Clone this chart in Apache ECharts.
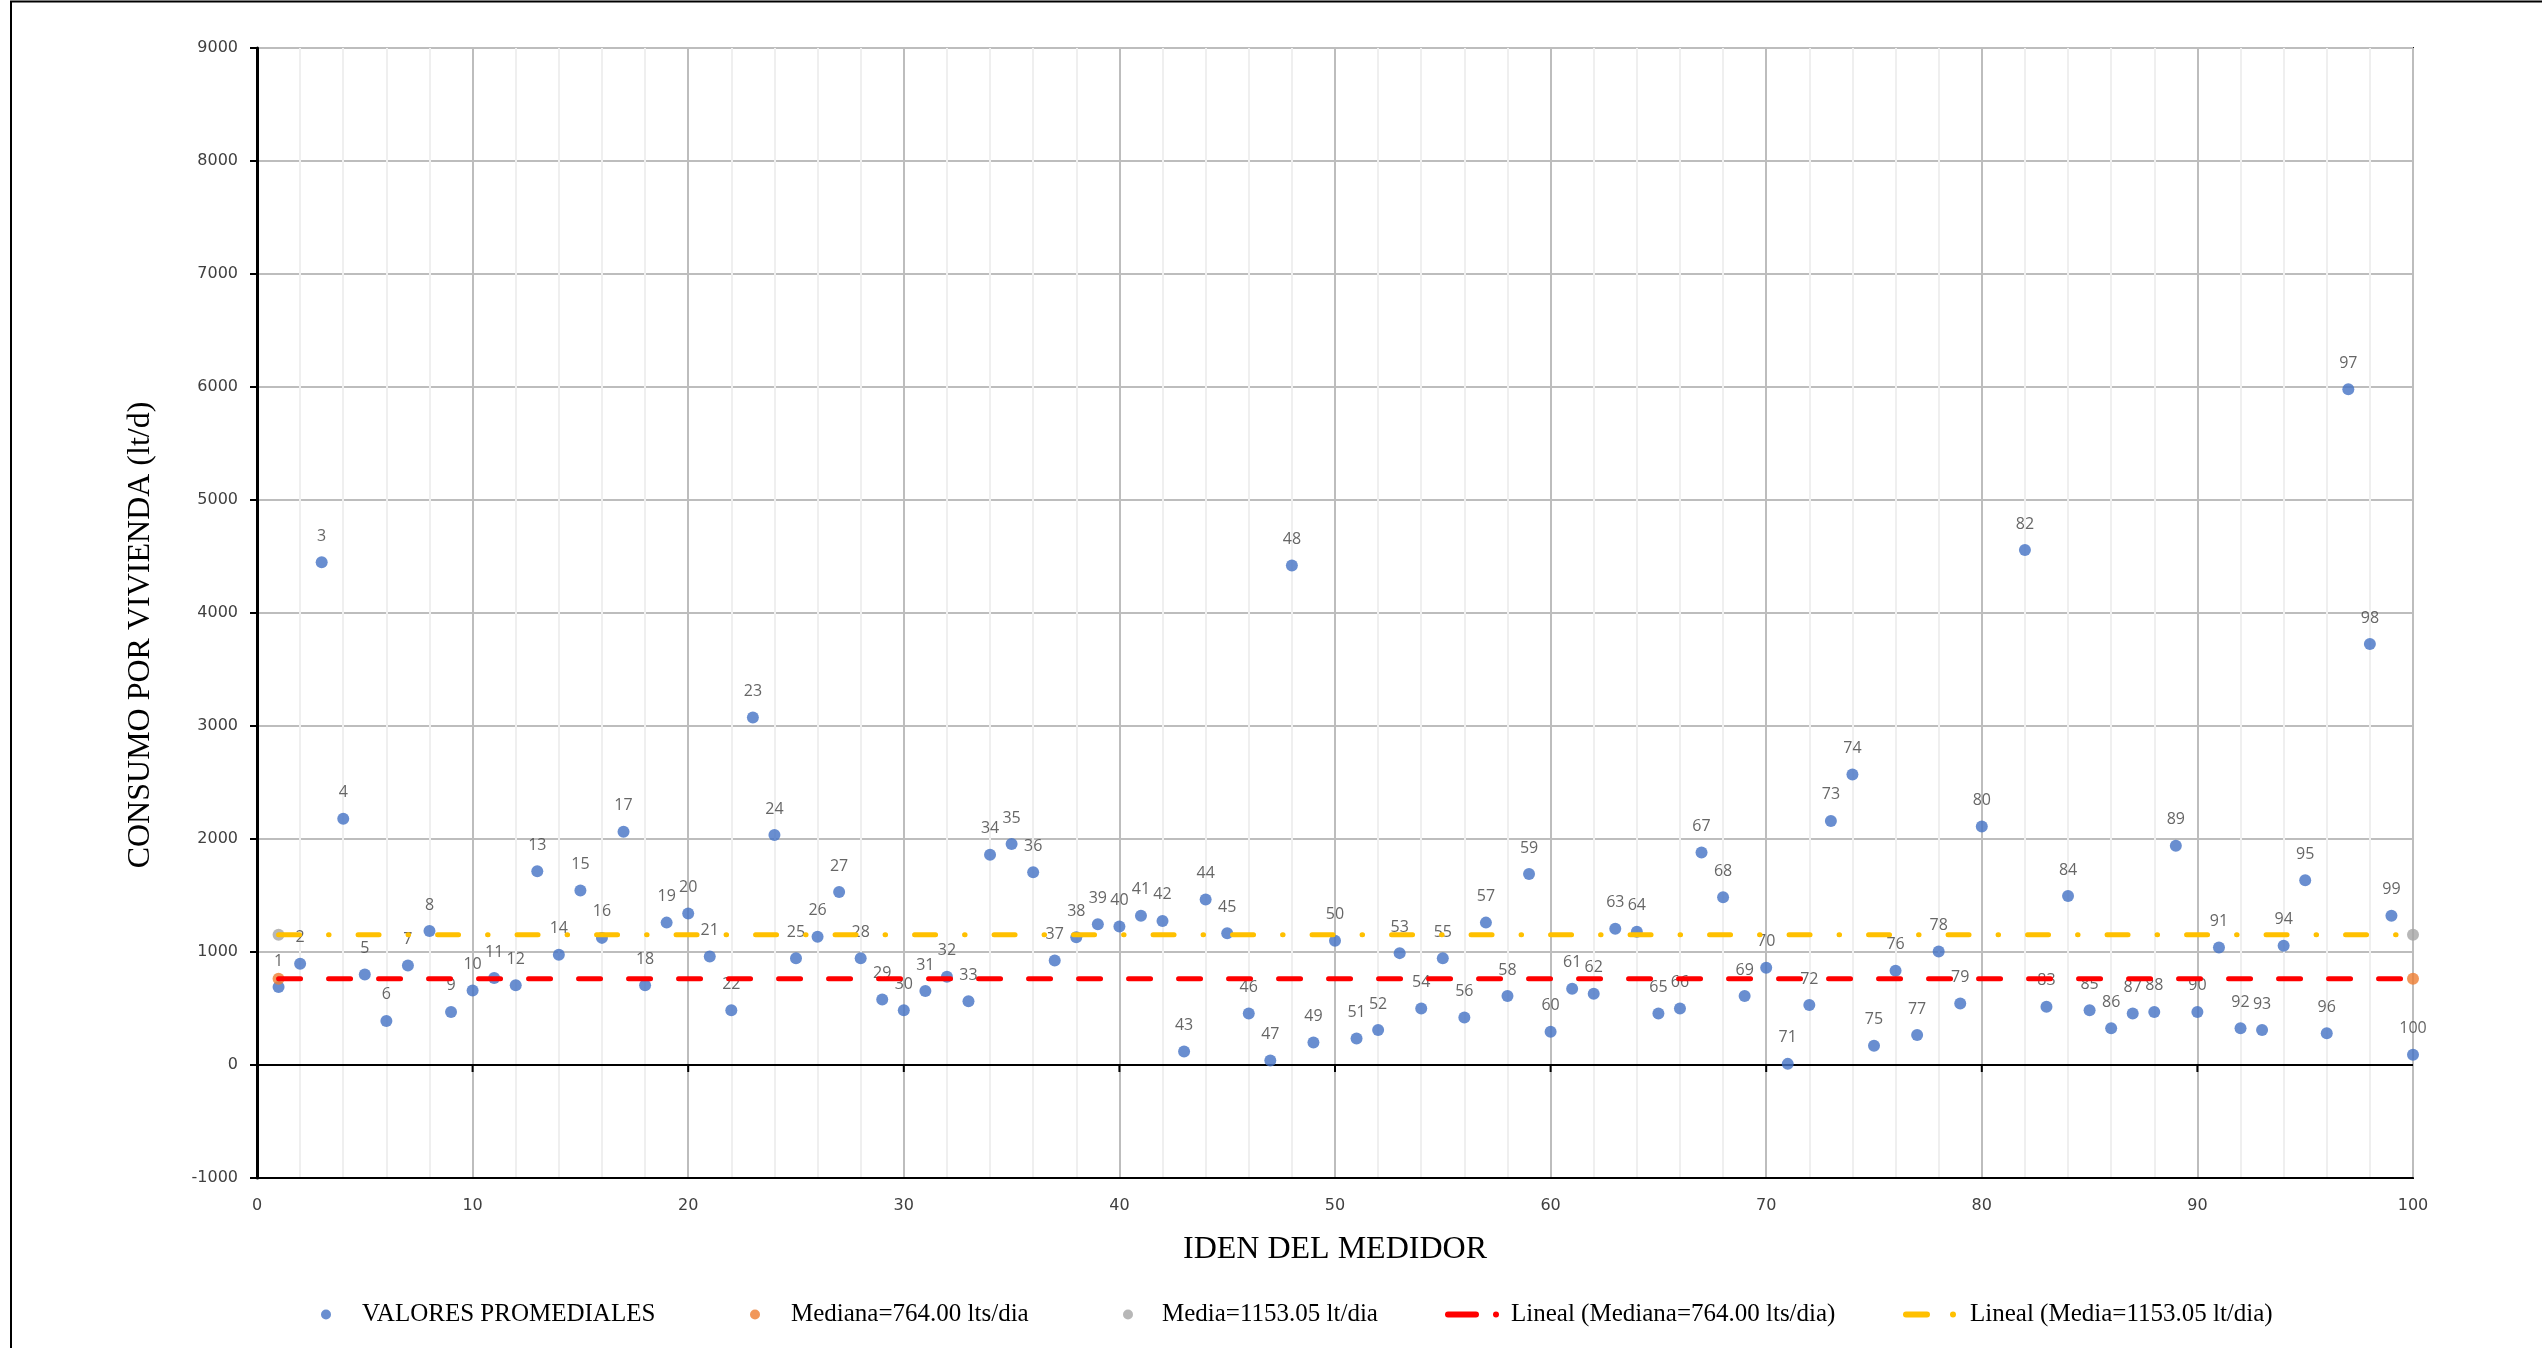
<!DOCTYPE html>
<html>
<head>
<meta charset="utf-8">
<title>Consumo por vivienda</title>
<script src="https://cdn.jsdelivr.net/npm/echarts@6/dist/echarts.min.js"></script>
<style>
  html, body { margin: 0; padding: 0; background: #ffffff; }
  #chart { width: 2542px; height: 1348px; }
</style>
</head>
<body>
<div id="chart"></div>
<script>
// Identificador de cada medidor (eje X)
const idMedidor = [
  1, 2, 3, 4, 5, 6, 7, 8, 9, 10,
  11, 12, 13, 14, 15, 16, 17, 18, 19, 20,
  21, 22, 23, 24, 25, 26, 27, 28, 29, 30,
  31, 32, 33, 34, 35, 36, 37, 38, 39, 40,
  41, 42, 43, 44, 45, 46, 47, 48, 49, 50,
  51, 52, 53, 54, 55, 56, 57, 58, 59, 60,
  61, 62, 63, 64, 65, 66, 67, 68, 69, 70,
  71, 72, 73, 74, 75, 76, 77, 78, 79, 80,
  81, 82, 83, 84, 85, 86, 87, 88, 89, 90,
  91, 92, 93, 94, 95, 96, 97, 98, 99, 100
];

// Consumo promedio por vivienda (lt/d); el medidor 81 no tiene registro
const consumoPromedio = [
  690, 895, 4450, 2180, 800, 390, 880, 1185, 470, 660,
  770, 705, 1715, 975, 1545, 1125, 2065, 705, 1260, 1340,
  960, 485, 3075, 2035, 945, 1135, 1530, 945, 580, 485,
  655, 780, 565, 1860, 1955, 1705, 925, 1130, 1245, 1225,
  1320, 1275, 120, 1465, 1165, 455, 40, 4420, 200, 1100,
  235, 310, 990, 500, 945, 420, 1260, 610, 1690, 295,
  675, 630, 1205, 1180, 455, 500, 1880, 1485, 610, 860,
  10, 530, 2160, 2570, 170, 835, 265, 1005, 545, 2110,
  null, 4558, 515, 1495, 485, 325, 455, 470, 1940, 470,
  1040, 325, 310, 1055, 1635, 280, 5980, 3726, 1320, 90
];

// Estadísticos de referencia
const mediana = 764.00;
const media = 1153.05;
const extremosX = [1, 100];

// Escalas de los ejes
const ejeX = { min: 0, max: 100, interval: 10 };
const ejeY = { min: -1000, max: 9000, interval: 1000 };
// Marcas sobre la línea del cero
const marcasCero = [10, 20, 30, 40, 50, 60, 70, 80, 90];

const puntos = idMedidor.map((id, i) => [id, consumoPromedio[i]]).filter(p => p[1] !== null);
const puntosMediana = extremosX.map(x => [x, mediana]);
const puntosMedia = extremosX.map(x => [x, media]);

const serifFont = '"Liberation Serif", "Times New Roman", serif';
const tickFont = '"DejaVu Sans", Verdana, sans-serif';

const chart = echarts.init(document.getElementById('chart'), null, { renderer: 'canvas' });

const legendBase = {
  orient: 'horizontal',
  top: 1302,
  padding: 0,
  itemHeight: 10,
  itemWidth: 10,
  textStyle: { fontFamily: serifFont, fontSize: 25, color: '#000000' },
  selectedMode: false
};
function leyenda(extra, pad) {
  return Object.assign({}, legendBase, extra, {
    textStyle: Object.assign({}, legendBase.textStyle, { padding: [0, 0, 0, pad] })
  });
}

chart.setOption({
  backgroundColor: '#ffffff',
  animation: false,
  grid: {
    left: 257, right: 129, top: 48, bottom: 170,
    show: true, borderColor: '#1a1a1a', borderWidth: 2
  },
  xAxis: {
    type: 'value',
    min: ejeX.min, max: ejeX.max, interval: ejeX.interval,
    position: 'bottom',
    name: 'IDEN DEL MEDIDOR',
    nameLocation: 'middle',
    nameGap: 56,
    nameTextStyle: { fontFamily: serifFont, fontSize: 32, color: '#000000' },
    axisLine: { show: true, onZero: false, lineStyle: { color: '#000000', width: 2 } },
    axisTick: { show: false },
    axisLabel: { fontFamily: tickFont, fontSize: 16, color: '#404040', margin: 20, formatter: v => String(v) },
    splitLine: { show: true, lineStyle: { color: '#BDBDBD', width: 2 } },
    minorTick: { show: false, splitNumber: 5 },
    minorSplitLine: { show: true, lineStyle: { color: '#EFEFEF', width: 2 } }
  },
  yAxis: {
    type: 'value',
    min: ejeY.min, max: ejeY.max, interval: ejeY.interval,
    axisLine: { show: true, onZero: false, lineStyle: { color: '#000000', width: 3 } },
    axisTick: { show: true, length: 7, lineStyle: { color: '#000000', width: 2 } },
    axisLabel: { fontFamily: tickFont, fontSize: 16, color: '#404040', margin: 19, formatter: v => String(v) },
    splitLine: { show: true, lineStyle: { color: '#BDBDBD', width: 2 } }
  },
  legend: [
    leyenda({ left: 321, data: [{ name: 'VALORES PROMEDIALES', icon: 'circle' }] }, 26),
    leyenda({ left: 750, data: [{ name: 'Mediana=764.00 lts/dia', icon: 'circle' }] }, 26),
    leyenda({ left: 1123, data: [{ name: 'Media=1153.05 lt/dia', icon: 'circle' }] }, 24),
    leyenda({
      left: 1445, itemWidth: 56, itemHeight: 6,
      data: [{ name: 'Lineal (Mediana=764.00 lts/dia)', icon: 'path://M3,0H31A3,3 0 0 1 31,6H3A3,3 0 0 1 3,0ZM51,0A3,3 0 0 1 51,6A3,3 0 0 1 51,0ZM0,3H0.01M56,3H55.99' }]
    }, 5),
    leyenda({
      left: 1903, itemWidth: 53, itemHeight: 6,
      data: [{ name: 'Lineal (Media=1153.05 lt/dia)', icon: 'path://M3,0H24A3,3 0 0 1 24,6H3A3,3 0 0 1 3,0ZM50,0A3,3 0 0 1 50,6A3,3 0 0 1 50,0ZM0,3H0.01M53,3H52.99' }]
    }, 9)
  ],
  graphic: [
    {
      // marco exterior del gráfico
      type: 'rect',
      shape: { x: 11, y: 1.5, width: 2700, height: 1500 },
      style: { fill: 'none', stroke: '#000000', lineWidth: 2 },
      silent: true
    },
    {
      type: 'text',
      x: 141, y: 635,
      rotation: Math.PI / 2,
      style: {
        text: 'CONSUMO POR VIVIENDA (lt/d)',
        font: '32px ' + serifFont,
        fill: '#000000',
        align: 'center',
        verticalAlign: 'middle'
      },
      silent: true
    }
  ],
  series: [
    {
      name: 'VALORES PROMEDIALES',
      type: 'scatter',
      z: 2,
      symbol: 'circle',
      symbolSize: 12,
      itemStyle: { color: '#4472C4' },
      label: {
        show: true,
        position: 'top',
        distance: 12,
        formatter: p => String(p.value[0]),
        fontFamily: '"Open Sans", "Liberation Sans", sans-serif',
        fontSize: 16,
        color: '#404040'
      },
      // línea horizontal del cero
      markLine: {
        silent: true,
        symbol: 'none',
        label: { show: false },
        lineStyle: { color: '#000000', width: 2, type: 'solid' },
        data: [{ yAxis: 0 }],
        z: 1
      },
      data: puntos
    },
    {
      // marcas de graduación sobre la línea del cero
      name: 'marcasCero',
      type: 'custom',
      z: 1,
      silent: true,
      renderItem: function (params, api) {
        const p = api.coord([api.value(0), api.value(1)]);
        return {
          type: 'line',
          shape: { x1: p[0], y1: p[1], x2: p[0], y2: p[1] + 7 },
          style: { stroke: '#000000', lineWidth: 2 }
        };
      },
      data: marcasCero.map(x => [x, 0])
    },
    {
      name: 'Mediana=764.00 lts/dia',
      type: 'scatter',
      z: 2,
      symbolSize: 12,
      itemStyle: { color: '#ED7D31' },
      data: puntosMediana
    },
    {
      name: 'Media=1153.05 lt/dia',
      type: 'scatter',
      z: 2,
      symbolSize: 12,
      itemStyle: { color: '#A5A5A5' },
      data: puntosMedia
    },
    {
      name: 'Lineal (Mediana=764.00 lts/dia)',
      type: 'line',
      z: 3,
      symbol: 'none',
      itemStyle: { color: '#FF0000' },
      lineStyle: { color: '#FF0000', width: 5, type: [22, 28], cap: 'round' },
      data: puntosMediana
    },
    {
      name: 'Lineal (Media=1153.05 lt/dia)',
      type: 'line',
      z: 3,
      symbol: 'none',
      itemStyle: { color: '#FFC000' },
      lineStyle: { color: '#FFC000', width: 5, type: [21, 29, 0.5, 29], cap: 'round' },
      data: puntosMedia
    }
  ]
});
</script>
</body>
</html>
